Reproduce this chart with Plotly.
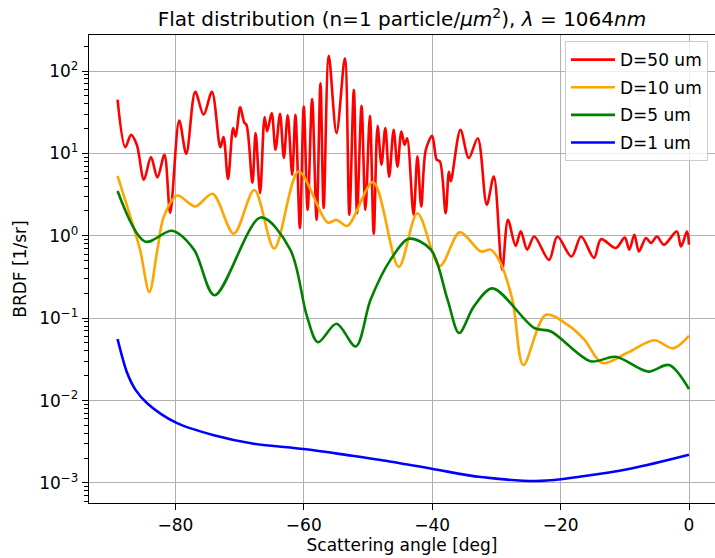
import plotly.graph_objects as go

# BRDF curves for a flat particle distribution, one per particle diameter
angle_d50 = [-89.0, -87.8, -86.9, -86.0, -84.9, -83.8, -82.8, -81.7, -80.8, -79.4,
             -78.3, -76.9, -75.6, -74.3, -73.0, -72.5, -71.8, -71.0, -70.6, -69.9,
             -69.3, -68.9, -68.0, -67.5, -66.8, -66.1, -65.7, -65.0, -64.4, -63.7,
             -63.1, -62.5, -61.8, -61.3, -60.6, -60.0, -59.4, -58.7, -58.0, -57.4,
             -56.9, -56.1, -54.9, -53.6, -52.9, -52.2, -51.7, -51.0, -50.4, -49.7,
             -49.1, -48.5, -47.9, -47.3, -46.7, -46.0, -45.4, -44.8, -44.3, -43.9,
             -42.9, -42.3, -41.7, -41.0, -40.0, -39.3, -38.8, -37.9, -37.4, -37.1,
             -35.6, -34.3, -32.9, -31.5, -30.4, -29.1, -28.2, -27.0, -26.2, -25.2,
             -24.1, -21.8, -20.5, -18.3, -16.8, -14.8, -13.7, -11.4, -10.0, -9.3,
             -8.5, -7.8, -6.7, -5.9, -5.0, -3.9, -1.9, -1.25, -0.3, 0.0]
brdf_d50 = [45, 11.9, 16.8, 12.7, 4.8, 9.0, 5.1, 9.6, 1.9, 25,
            9.9, 56, 29.4, 56, 11.9, 15.8, 4.9, 20.3, 16, 36.5,
            24, 22, 4.4, 17.6, 3.3, 27.6, 18.5, 30.8, 11.1, 30.3,
            8.8, 29, 5.5, 29.4, 1.24, 37, 2.07, 45.6, 1.56, 71,
            2.17, 153, 17.6, 143, 1.8, 59, 1.88, 37.8, 2.07, 28.6,
            1.06, 21.6, 7.3, 20.3, 5.2, 19.3, 6.9, 18.4, 12.7, 15.3,
            1.8, 9.2, 2.27, 11, 16.3, 8.4, 8.0, 1.88, 6.0, 4.6,
            19.3, 8.8, 15.3, 2.38, 5.25, 0.386, 1.56, 0.755, 1.13, 0.68,
            0.98, 0.51, 0.98, 0.56, 0.98, 0.54, 0.91, 0.71, 0.95, 0.68,
            1.03, 0.645, 0.94, 0.82, 0.98, 0.78, 1.13, 0.74, 1.13, 0.78]

angle_d10 = [-89.0, -87.0, -85.5, -84.05, -82.8, -81.8, -79.7, -76.9, -74.2, -70.9,
             -67.7, -64.6, -60.8, -56.3, -54.9, -53.2, -49.2, -45.2, -42.3, -38.8,
             -35.7, -32.4, -30.9, -29.6, -27.5, -25.8, -22.3, -18.9, -16.3, -13.5,
             -9.6, -5.4, -2.5, 0.0]
brdf_d10 = [5.35, 1.7, 0.68, 0.207, 0.68, 1.7, 3.08, 2.27, 3.23, 1.06,
            3.6, 0.70, 6.03, 1.45, 1.56, 1.32, 4.48, 0.42, 1.88, 0.43,
            1.1, 0.645, 0.68, 0.51, 0.167, 0.027, 0.11, 0.083, 0.055, 0.0285,
            0.038, 0.054, 0.043, 0.061]

angle_d5 = [-89.0, -84.7, -80.5, -77.1, -73.9, -66.7, -62.1, -59.5, -57.8, -54.9,
            -51.9, -49.6, -46.5, -43.6, -40.2, -37.6, -35.8, -33.5, -30.6, -24.1,
            -21.5, -15.3, -11.4, -6.4, -3.1, 0.0]
brdf_d5 = [3.5, 0.85, 1.15, 0.68, 0.19, 1.67, 0.68, 0.105, 0.051, 0.0855,
           0.0454, 0.167, 0.51, 0.92, 0.68, 0.167, 0.066, 0.139, 0.23, 0.076,
           0.069, 0.030, 0.034, 0.0225, 0.027, 0.0138]

angle_d1 = [-89.0, -87.5, -86.2, -84.4, -79.9, -74.0, -67.8, -60.0, -53.2, -48.0,
            -39.9, -32.4, -23.1, -16.8, -9.0, 0.0]
brdf_d1 = [0.056, 0.0216, 0.0135, 0.0093, 0.0054, 0.0038, 0.0030, 0.00258, 0.00218, 0.0019,
           0.00148, 0.00118, 0.00106, 0.0012, 0.0015, 0.0022]

series = [
    ("D=50 um", angle_d50, brdf_d50, "#ff0000"),
    ("D=10 um", angle_d10, brdf_d10, "#ffa500"),
    ("D=5 um", angle_d5, brdf_d5, "#008000"),
    ("D=1 um", angle_d1, brdf_d1, "#0000ff"),
]

x_ticks = [-80, -60, -40, -20, 0]
x_tick_text = ["\u221280", "\u221260", "\u221240", "\u221220", "0"]
y_ticks = [1e-3, 1e-2, 1e-1, 1e0, 1e1, 1e2]
y_tick_text = ["10<sup>\u22123</sup>", "10<sup>\u22122</sup>", "10<sup>\u22121</sup>",
               "10<sup>0</sup>", "10<sup>1</sup>", "10<sup>2</sup>"]
y_minor = [m * 10.0 ** k for k in range(-4, 3) for m in range(2, 10)]

FONT = "DejaVu Sans"

fig = go.Figure()
for name, xs, ys, color in series:
    fig.add_trace(go.Scatter(
        x=xs, y=ys, name=name, mode="lines", legendgroup=name,
        line=dict(color=color, width=2.6, shape="spline", smoothing=0.9),
    ))

fig.update_layout(
    width=715, height=558,
    margin=dict(l=89, r=0, t=35, b=55),
    paper_bgcolor="white", plot_bgcolor="white",
    font=dict(family=FONT, size=17, color="black"),
    title=dict(
        text="Flat distribution (n=1 particle/<i>\u03bcm</i><sup>2</sup>), <i>\u03bb</i> = 1064<i>nm</i>",
        x=0.5, xref="paper", xanchor="center",
        y=1 - 19 / 558, yref="container", yanchor="middle",
        font=dict(family=FONT, size=20, color="black"),
    ),
    showlegend=True,
    legend=dict(
        x=0.9888, xanchor="right", y=0.987, yanchor="top",
        bgcolor="rgba(255,255,255,0.8)", bordercolor="#cccccc", borderwidth=1,
        font=dict(family=FONT, size=17, color="black"),
        tracegroupgap=2.5, itemwidth=44,
    ),
)

fig.update_xaxes(
    range=[-93.45, 4.05],
    tickvals=x_ticks, ticktext=x_tick_text,
    showgrid=True, gridcolor="#b0b0b0", gridwidth=1.4,
    zeroline=False,
    showline=True, linecolor="black", linewidth=1.4, mirror=True,
    ticks="outside", ticklen=6, tickwidth=1.4, tickcolor="black",
    tickfont=dict(family=FONT, size=17),
    title=dict(text="Scattering angle [deg]", standoff=4, font=dict(family=FONT, size=17)),
)

fig.update_yaxes(
    type="log", range=[-3.243, 2.437],
    tickvals=y_ticks, ticktext=y_tick_text,
    showgrid=True, gridcolor="#b0b0b0", gridwidth=1.4,
    zeroline=False,
    showline=True, linecolor="black", linewidth=1.4, mirror=False,
    ticks="outside", ticklen=6, tickwidth=1.4, tickcolor="black",
    tickfont=dict(family=FONT, size=17),
    minor=dict(tickmode="array", tickvals=y_minor, ticks="outside", ticklen=3.5,
               tickwidth=1.0, tickcolor="black", showgrid=False),
    title=dict(text="BRDF [1/sr]", standoff=8, font=dict(family=FONT, size=17)),
)

fig.write_html("out.html")
